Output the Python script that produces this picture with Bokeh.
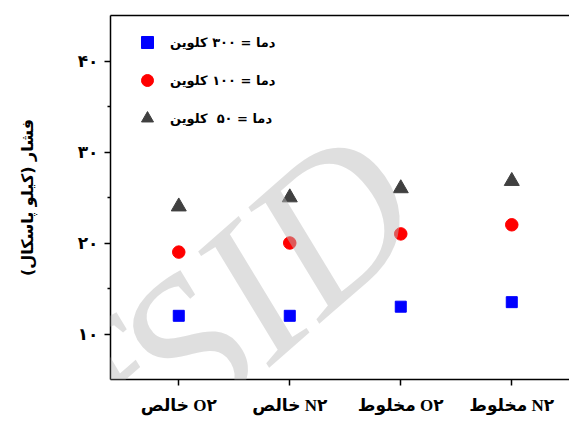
from bokeh.plotting import figure
from bokeh.models import Range1d, FixedTicker, LinearAxis, Legend, LegendItem, Label, GridBox
from bokeh.embed import file_html
from bokeh.resources import INLINE

# ---- data ----
categories = ["خالص O\u06f2", "خالص N\u06f2", "مخلوط O\u06f2", "مخلوط N\u06f2"]
x_pos = [1, 2, 3, 4]
p_300K = [12.0, 12.0, 13.0, 13.5]
p_100K = [19.0, 20.0, 21.0, 22.0]
p_50K = [24.0, 25.0, 26.0, 26.8]
y_ticks = [10, 20, 30, 40]
y_minor_ticks = [15, 25, 35]
y_tick_labels = ["۱۰", "۲۰", "۳۰", "۴۰"]
series_labels = ["دما = ۳۰۰ کلوین", "دما = ۱۰۰ کلوین", "دما = ۵۰  کلوین"]
y_title = "فشار (کیلو پاسکال)\u200f"
watermark_text = "fSID"

FONT = "Liberation Serif, DejaVu Sans"
FA_FONT = "DejaVu Sans"
W, H = 569, 421

p = figure(width=W, height=H, x_range=Range1d(0.385, 4.52), y_range=Range1d(5, 45),
           output_backend="svg", toolbar_location=None,
           min_border_left=110, min_border_right=0, min_border_top=15, min_border_bottom=42)
p.outline_line_color = None
p.xgrid.grid_line_color = None
p.ygrid.grid_line_color = None
p.background_fill_color = "white"
p.border_fill_color = "white"

xa = p.xaxis[0]
xa.ticker = FixedTicker(ticks=x_pos, minor_ticks=[])
xa.major_label_overrides = {x: c for x, c in zip(x_pos, categories)}
xa.major_tick_in = 0
xa.major_tick_out = 6
xa.minor_tick_line_color = None
xa.axis_line_width = 1.5
xa.major_tick_line_width = 1.5
xa.axis_line_color = "black"
xa.major_label_standoff = 10
xa.major_label_text_font = FONT
xa.major_label_text_font_style = "bold"
xa.major_label_text_font_size = "17px"
xa.major_label_text_color = "black"

ya = p.yaxis[0]
ya.ticker = FixedTicker(ticks=y_ticks, minor_ticks=y_minor_ticks)
ya.major_label_overrides = {t: l for t, l in zip(y_ticks, y_tick_labels)}
ya.major_tick_in = 0
ya.major_tick_out = 6
ya.minor_tick_in = 0
ya.minor_tick_out = 3
ya.axis_line_width = 1.5
ya.major_tick_line_width = 1.5
ya.minor_tick_line_width = 1.5
ya.axis_line_color = "black"
ya.major_label_standoff = 6
ya.major_label_text_font = FA_FONT
ya.major_label_text_font_style = "bold"
ya.major_label_text_font_size = "17px"
ya.major_label_text_color = "black"
ya.axis_label = y_title
ya.axis_label_text_font = FA_FONT
ya.axis_label_text_font_style = "bold"
ya.axis_label_text_font_size = "16px"
ya.axis_label_text_color = "black"
ya.axis_label_standoff = 38

top = LinearAxis(ticker=FixedTicker(ticks=[], minor_ticks=[]), axis_line_width=1.5,
                 major_tick_line_color=None, minor_tick_line_color=None)
p.add_layout(top, "above")

r300 = p.scatter(x_pos, p_300K, marker="square", size=11, color="#0000ff")
r100 = p.scatter(x_pos, p_100K, marker="circle", size=12.5, color="#ff0000")
r50 = p.scatter(x_pos, p_50K, marker="triangle", size=15, color="#404040")

legend = Legend(items=[LegendItem(label=series_labels[0], renderers=[r300]),
                       LegendItem(label=series_labels[1], renderers=[r100]),
                       LegendItem(label=series_labels[2], renderers=[r50])],
                location=(22, 246), padding=0, margin=0, spacing=8,
                glyph_width=30, glyph_height=30, label_height=30, label_standoff=8,
                border_line_color=None, background_fill_alpha=0,
                label_text_font=FA_FONT, label_text_font_style="bold",
                label_text_font_size="13px", label_text_color="black")
p.add_layout(legend, "center")

# transparent overlay figure carrying the watermark over the whole picture
wmfig = figure(width=W, height=H, x_range=Range1d(0, W), y_range=Range1d(0, H),
               x_axis_type=None, y_axis_type=None, output_backend="svg",
               toolbar_location=None, min_border=0)
wmfig.outline_line_color = None
wmfig.xgrid.grid_line_color = None
wmfig.ygrid.grid_line_color = None
wmfig.background_fill_alpha = 0
wmfig.border_fill_alpha = 0
wm = Label(x=-8, y=-47, text=watermark_text, angle=0.72,
           text_font="Liberation Serif", text_font_style="italic", text_font_size="205px",
           text_baseline="alphabetic", text_align="left",
           text_color="#bcbcbc", text_alpha=0.47)
wmfig.add_layout(wm)

root = GridBox(children=[(p, 0, 0), (wmfig, 0, 0)])
open("out.html", "w").write(file_html(root, INLINE))
